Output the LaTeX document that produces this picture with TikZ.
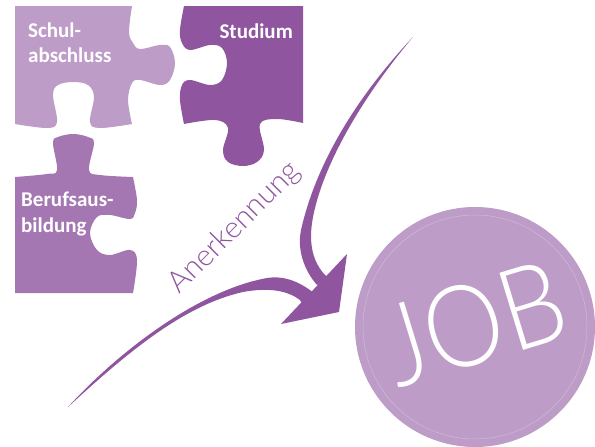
\documentclass[tikz,border=0pt]{standalone}
\usepackage{fontspec}
\setmainfont{Carlito}
\newfontfamily\thinfont{Lato Light}
\definecolor{pLight}{HTML}{BD9CC8}
\definecolor{pMid}{HTML}{A577B2}
\definecolor{pDark}{HTML}{90559F}
\tikzset{
  lbl/.style={text=white,font=\fontsize{21}{24}\selectfont\bfseries,align=left,inner sep=0pt},
  thin label/.style={inner sep=0pt,font=\thinfont}
}
\begin{document}
\begin{tikzpicture}[x=1pt,y=-1pt]
\useasboundingbox (0,0) rectangle (595,447);
% pieces
\fill[pLight] (15,6) -- (132,6) -- plot[smooth,tension=.6] coordinates {(132,6) (129,32) (133,43) (140,49) (160,45) (170,47) (175,63) (170,80) (160,85) (140,80) (132,83) (128,100) (132,124)}
 -- plot[smooth,tension=.6] coordinates {(132,124) (100,128) (90,122) (94,97) (88,85) (73,82) (58,85) (53,95) (57,122) (47,128) (15,124)} -- cycle;
\fill[pDark] (184,6) -- (303,6) -- (303,123) -- plot[smooth,tension=.6] coordinates {(303,123) (277,119) (260,124) (264,150) (257,162) (243,166) (228,162) (223,150) (228,128) (215,120) (184,124)}
 -- plot[smooth,tension=.6] coordinates {(184,124) (180,100) (182,85) (190,80) (210,85) (222,80) (227,63) (222,48) (210,45) (190,50) (182,43) (180,30) (184,6)} -- cycle;
\fill[pMid] (15,177) -- plot[smooth,tension=.6] coordinates {(15,177) (47,174) (57,170) (53,143) (58,137) (73,134) (88,137) (94,143) (89,170) (100,175) (133,177)}
 -- plot[smooth,tension=.6] coordinates {(133,177) (137,200) (135,213) (130,219) (110,215) (97,217) (90,233) (97,250) (110,255) (130,250) (137,260) (133,293)} -- (15,293) -- cycle;
% arrows
\fill[pDark] (413,37) .. controls (365,88) and (318,155) .. (301,230) .. controls (297,250) and (304,270) .. (317,285)
 -- (330,280) -- (325,275) .. controls (313,262) and (309,245) .. (312,223) .. controls (320,170) and (360,100) .. (413,37) -- cycle;
\fill[pDark] (68,407) .. controls (120,350) and (200,290) .. (267,278) .. controls (285,275) and (302,283) .. (315,294)
 -- (302,304) -- (300,300) .. controls (288,291) and (270,287) .. (243,292) .. controls (185,305) and (130,350) .. (68,407) -- cycle;
\fill[pDark] (347,254) -- (339,312) -- (281,324) -- cycle;
% circle
\fill[pLight] (475,327) circle[radius=120];
\draw[white,opacity=.3,line width=.5pt] (475,327) circle[radius=112];
% texts
\node[lbl,anchor=west] (schul) at (28,30) {Schul-};
\node[lbl,anchor=west] (abschl) at (28,55) {abschluss};
\node[lbl,anchor=east] (studium) at (293,31) {Studium};
\node[lbl,anchor=west] (beruf) at (21,199) {Berufsaus-};
\node[lbl,anchor=west] (bildung) at (21,227) {bildung};
\node[thin label,text=pDark,rotate=45,font=\thinfont\fontsize{30}{36}\selectfont] (anerk) at (235,228) {Anerkennung};
\node[thin label,text=white,rotate=17,font=\thinfont\fontsize{114}{120}\selectfont] (job) at (474,323) {\scalebox{.88}[1]{JOB}};
\end{tikzpicture}
\end{document}
